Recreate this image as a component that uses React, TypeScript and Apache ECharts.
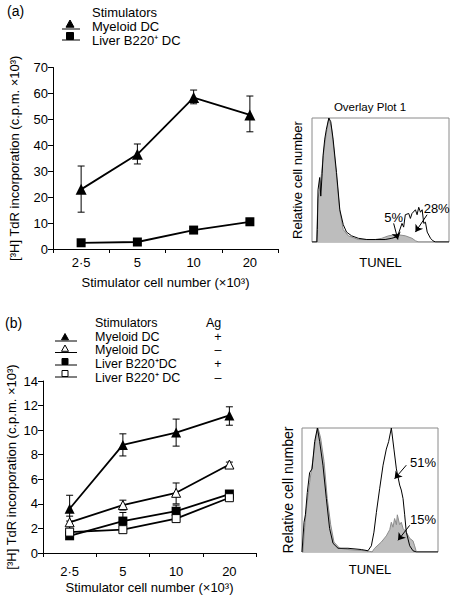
import React, { useEffect, useRef } from "react";
import * as echarts from "echarts";

const FONT = "'Liberation Sans', Arial, Helvetica, sans-serif";

// Panel (a) line chart
const catsA = ["2·5", "5", "10", "20"];
const myeloidA = [23, 36.5, 58.4, 51.7];
const myeloidAHi = [32, 40.5, 61.3, 59];
const myeloidALo = [14.2, 32.8, 56, 45.2];
const liverA = [2.4, 2.7, 7.3, 10.5];
const liverAHi = [2.9, 3.3, 8.2, 11.8];
const liverALo = [1.9, 2.1, 6.4, 9.2];

// Panel (b) line chart
const catsB = ["2·5", "5", "10", "20"];
const myeloidPos = [3.6, 8.8, 9.8, 11.2];
const myeloidPosHi = [4.7, 9.7, 10.9, 11.9];
const myeloidPosLo = [2.6, 7.9, 8.7, 10.4];
const myeloidNeg = [2.5, 3.9, 4.9, 7.2];
const myeloidNegHi = [3.0, 4.3, 5.7, 7.4];
const myeloidNegLo = [2.0, 3.5, 4.0, 7.0];
const liverPos = [1.4, 2.6, 3.4, 4.8];
const liverPosHi = [1.6, 3.3, 3.9, 4.9];
const liverPosLo = [1.2, 1.9, 2.9, 4.6];
const liverNeg = [1.7, 1.9, 2.8, 4.5];
const liverNegHi = [2.2, 2.1, 3.0, 4.6];
const liverNegLo = [1.4, 1.7, 2.6, 4.4];

// Histogram (a): [TUNEL channel %, relative count %]
const histAFilled: [number, number][] = [
  [0, 0], [3.2, 0], [4.4, 35], [5.5, 42], [6.9, 55], [8.8, 75], [10.5, 88], [12.3, 100],
  [14.2, 92], [16.2, 72], [18.6, 45], [20.3, 25], [22.8, 10], [26.5, 5], [33.8, 2],
  [46.1, 2], [51, 3], [55.9, 5], [62, 6], [68.1, 5], [73, 3], [75.5, 1], [77.9, 0], [100, 0],
];
const histAOpen: [number, number][] = [
  [0, 0], [3.6, 0], [3.9, 10], [4.4, 42], [5.6, 52], [6.4, 37], [7.4, 55], [8.1, 70],
  [9.3, 83], [10.5, 91], [12.3, 100], [13.7, 97], [15.4, 83], [17.9, 56], [20.3, 26],
  [22.8, 14], [25.2, 8], [28.9, 5], [33.8, 3], [40, 2], [46.1, 2], [53.4, 2], [58.3, 3],
  [61.3, 4], [63.2, 7], [65.7, 15], [66.9, 12], [68.1, 22], [70.6, 23], [71.8, 19],
  [73, 23], [75.5, 26], [76.7, 22], [77.9, 28], [79.2, 24], [80.4, 26], [81.6, 15],
  [82.8, 16], [84.1, 8], [86.5, 3], [88.2, 1], [90.2, 0], [100, 0],
];

// Histogram (b)
const histBFilled: [number, number][] = [
  [0, 0], [0.7, 0], [2, 20], [3.2, 35], [5.6, 56], [8.1, 75], [10.5, 94], [11.8, 100],
  [13.7, 92], [16.2, 73], [18.6, 43], [21.1, 22], [23.5, 8], [27.7, 3], [33.8, 2],
  [46.1, 1], [49.8, 0.5], [51.5, 0], [53.4, 3], [58.3, 8], [62, 13], [64.5, 18],
  [65.7, 24], [66.9, 20], [68.1, 27], [69.4, 22], [70.1, 30], [71.8, 22], [73, 24],
  [74.3, 19], [76.7, 16], [79.2, 11], [81.6, 9], [82.8, 5], [84.1, 0], [100, 0],
];
const histBOpen: [number, number][] = [
  [0, 0], [0.5, 0], [1.5, 24], [2.5, 30], [3.9, 48], [5.6, 64], [7.4, 67], [9.3, 89],
  [11.3, 100], [13, 89], [15.4, 70], [17.9, 43], [20.3, 19], [22.8, 7], [26.5, 3],
  [33.8, 3], [43.6, 2], [48.5, 1], [51, 5], [52.9, 16], [54.7, 32], [57.1, 51],
  [59.6, 70], [62, 83], [63.7, 89], [65.7, 100], [67.6, 83], [69.4, 67], [71.8, 54],
  [73, 50], [74.3, 43], [75.5, 30], [76.7, 16], [79.2, 5], [81.6, 1], [84.1, 0], [100, 0],
];

const yNameAB = "[³H] TdR incorporation (c.p.m. ×10³)";
const xNameAB = "Stimulator cell number (×10³)";

function errorSeries(axis: number, lo: number[], hi: number[], cap: number) {
  return {
    type: "custom",
    xAxisIndex: axis,
    yAxisIndex: axis,
    silent: true,
    z: 1,
    data: lo.map((l, i) => [i, l, hi[i]]),
    encode: { x: 0, y: [1, 2] },
    renderItem: (_p: any, api: any) => {
      const a = api.coord([api.value(0), api.value(1)]);
      const b = api.coord([api.value(0), api.value(2)]);
      const st = { stroke: "#000", lineWidth: 1 };
      return {
        type: "group",
        children: [
          { type: "line", shape: { x1: a[0], y1: a[1], x2: b[0], y2: b[1] }, style: st },
          { type: "line", shape: { x1: a[0] - cap, y1: a[1], x2: a[0] + cap, y2: a[1] }, style: st },
          { type: "line", shape: { x1: b[0] - cap, y1: b[1], x2: b[0] + cap, y2: b[1] }, style: st },
        ],
      };
    },
  };
}

function lineSeries(axis: number, data: number[], symbol: string, size: number, open: boolean) {
  return {
    type: "line",
    xAxisIndex: axis,
    yAxisIndex: axis,
    data,
    symbol,
    symbolSize: size,
    z: 3,
    lineStyle: { color: "#000", width: 1.8 },
    itemStyle: open
      ? { color: "#fff", borderColor: "#000", borderWidth: 1 }
      : { color: "#000", borderColor: "#000", borderWidth: 0 },
  };
}

function catAxis(grid: number, cats: string[], margin: number, gap: number) {
  return {
    type: "category",
    gridIndex: grid,
    data: cats,
    boundaryGap: true,
    axisLine: { lineStyle: { color: "#000", width: 1 } },
    axisTick: { show: true, length: 4, lineStyle: { color: "#000" } },
    axisLabel: { color: "#000", fontSize: 13, fontFamily: FONT, margin },
    name: xNameAB,
    nameLocation: "middle",
    nameGap: gap,
    nameTextStyle: { color: "#000", fontSize: 13, fontFamily: FONT },
    splitLine: { show: false },
  };
}

function valAxis(grid: number, max: number, interval: number, gap: number) {
  return {
    type: "value",
    gridIndex: grid,
    min: 0,
    max,
    interval,
    axisLine: { show: true, lineStyle: { color: "#000", width: 1 } },
    axisTick: { show: true, length: 5, lineStyle: { color: "#000" } },
    axisLabel: { color: "#000", fontSize: 13, fontFamily: FONT, margin: 5 },
    splitLine: { show: false },
    name: yNameAB,
    nameLocation: "middle",
    nameGap: gap,
    nameTextStyle: { color: "#000", fontSize: 13, fontFamily: FONT },
  };
}

function histX(grid: number, gap: number) {
  return {
    type: "value",
    gridIndex: grid,
    min: 0,
    max: 100,
    axisLine: { show: false },
    axisTick: { show: false },
    axisLabel: { show: false },
    splitLine: { show: false },
    name: "TUNEL",
    nameLocation: "middle",
    nameGap: gap,
    nameTextStyle: { color: "#000", fontSize: 13, fontFamily: FONT },
  };
}

function histY(grid: number, gap: number, size: number) {
  return {
    type: "value",
    gridIndex: grid,
    min: 0,
    max: 100,
    axisLine: { show: false },
    axisTick: { show: false },
    axisLabel: { show: false },
    splitLine: { show: false },
    name: "Relative cell number",
    nameLocation: "middle",
    nameGap: gap,
    nameTextStyle: { color: "#000", fontSize: size, fontFamily: FONT },
  };
}

function arrowLine(x1: number, y1: number, x2: number, y2: number) {
  return [{ coord: [x1, y1] }, { coord: [x2, y2] }];
}

function histSeries(
  axis: number,
  filled: [number, number][],
  open: [number, number][],
  arrows: any[],
  labels: { coord: number[]; text: string }[]
) {
  return [
    {
      type: "line",
      xAxisIndex: axis,
      yAxisIndex: axis,
      data: filled,
      showSymbol: false,
      symbol: "none",
      silent: true,
      z: 2,
      lineStyle: { color: "#8c8c8c", width: 1 },
      areaStyle: { color: "#bdbdbd", opacity: 1 },
    },
    {
      type: "line",
      xAxisIndex: axis,
      yAxisIndex: axis,
      data: open,
      showSymbol: false,
      symbol: "none",
      silent: true,
      z: 3,
      lineStyle: { color: "#000", width: 1 },
      markLine: {
        silent: true,
        symbol: ["none", "arrow"],
        symbolSize: 7,
        label: { show: false },
        lineStyle: { color: "#000", width: 1, type: "solid" },
        data: arrows,
      },
      markPoint: {
        silent: true,
        symbol: "circle",
        symbolSize: 0,
        data: labels.map((l) => ({
          coord: l.coord,
          label: {
            show: true,
            position: "inside",
            formatter: l.text,
            color: "#000",
            fontSize: 13,
            fontFamily: FONT,
          },
        })),
      },
    },
  ];
}

function txt(x: number, y: number, text: string, size = 13, align = "left") {
  return {
    type: "text",
    x,
    y,
    silent: true,
    style: {
      text,
      fontSize: size,
      fontFamily: FONT,
      fill: "#000",
      verticalAlign: "middle",
      align,
      lineHeight: 11,
    },
  };
}
function ln(x1: number, y1: number, x2: number, y2: number) {
  return { type: "line", silent: true, shape: { x1, y1, x2, y2 }, style: { stroke: "#000", lineWidth: 1 } };
}
function tri(cx: number, cy: number, s: number, open: boolean) {
  return {
    type: "polygon",
    silent: true,
    shape: { points: [[cx, cy - s], [cx - s, cy + s * 0.8], [cx + s, cy + s * 0.8]] },
    style: { fill: open ? "#fff" : "#000", stroke: "#000", lineWidth: 1 },
  };
}
function sq(cx: number, cy: number, s: number, open: boolean) {
  return {
    type: "rect",
    silent: true,
    shape: { x: cx - s, y: cy - s, width: 2 * s, height: 2 * s },
    style: { fill: open ? "#fff" : "#000", stroke: "#000", lineWidth: 1 },
  };
}

export default function App() {
  const ref = useRef<HTMLDivElement>(null);
  useEffect(() => {
    if (!ref.current) return;
    const chart = echarts.init(ref.current, null, { renderer: "svg" });
    const option: any = {
      animation: false,
      backgroundColor: "#fff",
      grid: [
        { left: 52, top: 67.5, width: 226, height: 181.5 },
        { left: 312, top: 118, width: 137, height: 124, show: true, borderColor: "#8a8a8a", borderWidth: 1 },
        { left: 43, top: 381, width: 213, height: 172 },
        { left: 302, top: 428, width: 136, height: 124, show: true, borderColor: "#8a8a8a", borderWidth: 1 },
      ],
      xAxis: [catAxis(0, catsA, 7, 27), histX(1, 14), catAxis(2, catsB, 12, 28), histX(3, 11)],
      yAxis: [valAxis(0, 70, 10, 32), histY(1, 8, 13), valAxis(2, 14, 2, 25), histY(3, 7, 14)],
      series: [
        errorSeries(0, myeloidALo, myeloidAHi, 3.5),
        errorSeries(0, liverALo, liverAHi, 3.5),
        lineSeries(0, myeloidA, "triangle", 11, false),
        lineSeries(0, liverA, "rect", 9, false),
        ...histSeries(
          1,
          histAFilled,
          histAOpen,
          [arrowLine(59.6, 15, 62.7, 2), arrowLine(84, 22, 75.5, 8)],
          [
            { coord: [59.6, 20], text: "5%" },
            { coord: [91, 27], text: "28%" },
          ]
        ),
        errorSeries(2, myeloidPosLo, myeloidPosHi, 3.5),
        errorSeries(2, myeloidNegLo, myeloidNegHi, 3.5),
        errorSeries(2, liverPosLo, liverPosHi, 3.5),
        errorSeries(2, liverNegLo, liverNegHi, 3.5),
        lineSeries(2, myeloidPos, "triangle", 10, false),
        lineSeries(2, myeloidNeg, "triangle", 9, true),
        lineSeries(2, liverPos, "rect", 9, false),
        lineSeries(2, liverNeg, "rect", 8, true),
        ...histSeries(
          3,
          histBFilled,
          histBOpen,
          [arrowLine(76.7, 70, 68.1, 59), arrowLine(79.2, 21.5, 70.6, 9.4)],
          [
            { coord: [89, 72], text: "51%" },
            { coord: [89, 26], text: "15%" },
          ]
        ),
      ],
      graphic: [
        txt(7, 11, "(a)", 14),
        txt(92, 12.5, "Stimulators", 13),
        ln(62, 29, 80, 29),
        tri(70, 24, 4, false),
        txt(92, 26, "Myeloid DC", 13),
        ln(62, 40, 80, 40),
        sq(70, 36, 3.5, false),
        txt(92, 40.5, "Liver B220⁺ DC", 13),
        txt(370, 107, "Overlay Plot 1", 11.5, "center"),

        txt(5, 323, "(b)", 14),
        txt(95, 323, "Stimulators", 12.5),
        txt(206, 323, "Ag", 12.5),
        ln(55, 341, 77, 341),
        tri(65, 337, 3.5, false),
        txt(95, 336.5, "Myeloid DC", 12.5),
        txt(218, 336.5, "+", 12.5, "center"),
        ln(55, 352.5, 77, 352.5),
        tri(65, 348.5, 3.5, true),
        txt(95, 349.5, "Myeloid DC", 12.5),
        txt(218, 349.5, "–", 12.5, "center"),
        ln(55, 365, 77, 365),
        sq(65, 361.5, 3, false),
        txt(95, 363.5, "Liver B220⁺DC", 12.5),
        txt(218, 363.5, "+", 12.5, "center"),
        ln(55, 377, 77, 377),
        sq(65, 373.5, 3, true),
        txt(95, 378, "Liver B220⁺ DC", 12.5),
        txt(218, 378, "–", 12.5, "center"),
      ],
    };
    chart.setOption(option);
    return () => chart.dispose();
  }, []);
  return (
    <div
      ref={ref}
      style={{ position: "fixed", left: 0, top: 0, width: 450, height: 598, background: "#fff" }}
    />
  );
}
